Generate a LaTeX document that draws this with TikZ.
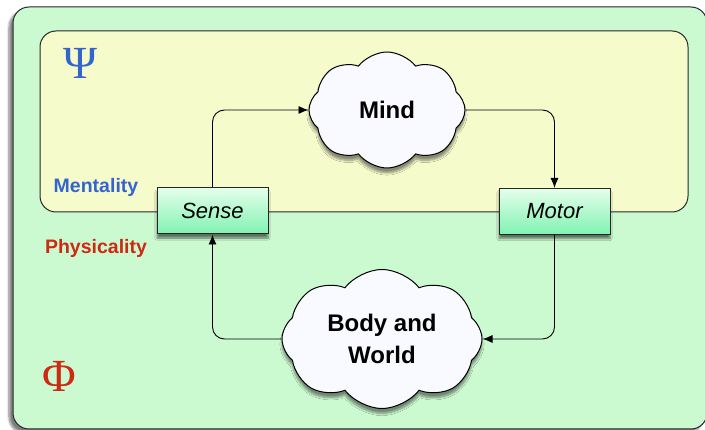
\documentclass[tikz,border=0pt]{standalone}
\usepackage{fontspec}
\setmainfont{Liberation Sans}
\newfontfamily\greekfont{Liberation Serif}
\usetikzlibrary{shapes.symbols,shadows.blur,arrows.meta}
\definecolor{outerfill}{HTML}{CCFAD0}
\definecolor{innerfill}{HTML}{F6FBCC}
\definecolor{boxtop}{HTML}{E4FFEA}
\definecolor{boxbot}{HTML}{80F2B2}
\definecolor{cloudfill}{HTML}{F9FAFF}
\definecolor{psiblue}{HTML}{3465CC}
\definecolor{phired}{HTML}{CC2A12}
\tikzset{
  frame/.style={draw=black!85, line width=1pt, rounded corners=16pt, inner sep=0pt},
  iobox/.style={draw=black!85, line width=1pt, top color=boxtop, bottom color=boxbot,
    minimum width=111pt, minimum height=46pt, inner sep=0pt,
    blur shadow={shadow xshift=0pt, shadow yshift=-4pt, shadow blur steps=8, shadow opacity=55},
    font=\fontsize{22}{26}\selectfont\itshape},
  thought/.style={cloud, cloud puffs=8, cloud puff arc=105, aspect=1.3, draw=black, line width=1pt,
    fill=cloudfill, inner sep=0pt, align=center,
    blur shadow={shadow xshift=0pt, shadow yshift=-5pt, shadow blur steps=8, shadow opacity=45},
    font=\fontsize{24}{32}\selectfont\bfseries},
  link/.style={draw=black, line width=0.9pt, rounded corners=12pt, -{Latex[length=10pt,width=8pt]}},
  lbl/.style={font=\fontsize{19.5}{22}\selectfont\bfseries, inner sep=0pt},
  sym/.style={font=\fontsize{46}{46}\selectfont\greekfont, inner sep=0pt}
}
\begin{document}
\begin{tikzpicture}[x=1pt,y=-1pt]
\useasboundingbox (0,0) rectangle (705,430);
\node[frame, fill=outerfill, minimum width=694pt, minimum height=422pt,
  blur shadow={shadow xshift=-4pt, shadow yshift=-4pt, shadow blur steps=8, shadow opacity=50}] (outer) at (360,218) {};
\node[frame, fill=innerfill, minimum width=648pt, minimum height=181pt] (inner) at (364,121.5) {};
\node[sym, text=psiblue] (psi) at (80,63) {Ψ};
\node[sym, text=phired] (phi) at (59,376) {Φ};
\node[lbl, text=psiblue] (ment) at (96,187) {Mentality};
\node[lbl, text=phired] (phys) at (96,248) {Physicality};
\node[thought, minimum width=156pt, minimum height=116pt] (mind) at (387,110) {Mind};
\node[thought, minimum width=200pt, minimum height=132pt] (body) at (382,339) {Body and\\World};
\node[iobox] (sense) at (212.5,211) {Sense};
\node[iobox] (motor) at (554.5,211.5) {Motor};
\draw[link] (sense.north) |- (mind.west);
\draw[link] (mind.east) -| (motor.north);
\draw[link] (motor.south) |- (body.east);
\draw[link] (body.west) -| (sense.south);
\end{tikzpicture}
\end{document}
